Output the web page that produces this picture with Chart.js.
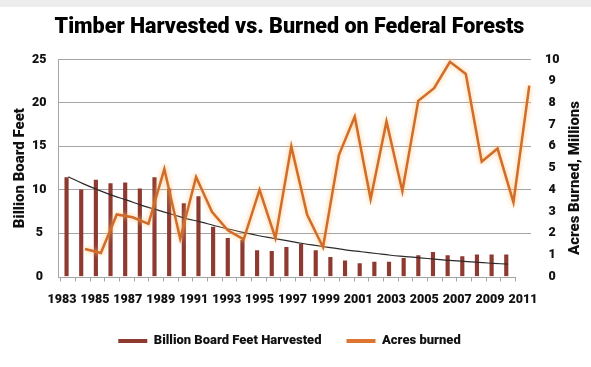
<!DOCTYPE html>
<html><head><meta charset="utf-8">
<script src="https://cdn.jsdelivr.net/npm/chart.js@4/dist/chart.umd.min.js"></script>
<style>
html,body{margin:0;padding:0;}
body{width:591px;height:367px;overflow:hidden;background:linear-gradient(#ededed 0,#ededed 7px,#ffffff 7px);}
canvas{display:block;}
</style></head><body>
<canvas id="c" width="591" height="367"></canvas>
<script>
// ---- data ----
const barYears = [1983,1984,1985,1986,1987,1988,1989,1990,1991,1992,1993,1994,1995,1996,1997,1998,1999,2000,2001,2002,2003,2004,2005,2006,2007,2008,2009,2010,2011,2012,2013];
const harvested = [11.4,10.0,11.1,10.7,10.8,10.1,11.4,10.1,8.4,9.2,5.7,4.4,4.2,3.0,2.9,3.35,3.7,3.0,2.2,1.8,1.5,1.65,1.65,2.1,2.4,2.8,2.4,2.3,2.5,2.5,2.5];
const harvestTrend = [11.5,10.7,10.0,9.35,8.8,8.2,7.7,7.2,6.7,6.3,5.85,5.45,5.05,4.7,4.4,4.1,3.8,3.55,3.3,3.05,2.85,2.65,2.45,2.3,2.15,2.0,1.85,1.75,1.62,1.52,1.42];
const fireYears = [1983,1984,1985,1986,1987,1988,1989,1990,1991,1992,1993,1994,1995,1996,1997,1998,1999,2000,2001,2002,2003,2004,2005,2006,2007,2008,2009,2010,2011];
const acresBurned = [1.27,1.08,2.86,2.73,2.43,4.96,1.74,4.59,2.98,2.13,1.71,4.0,1.77,6.0,2.84,1.35,5.6,7.37,3.57,7.15,3.93,8.1,8.68,9.9,9.34,5.29,5.9,3.42,8.8];
const yearTicks = [1983,1985,1987,1989,1991,1993,1995,1997,1999,2001,2003,2005,2007,2009,2011];
const leftTicks = [0,5,10,15,20,25];
const rightTicks = [0,1,2,3,4,5,6,7,8,9,10];

const GRID = '#a4a4a4';
const FONT = "Roboto, 'Liberation Sans', Arial, sans-serif";
const W = 900;
const BAR = '#8e3a30';
const ORANGE = '#d06d2a';
Chart.defaults.font.family = FONT;
Chart.defaults.font.weight = W;
Chart.defaults.color = '#111';

const glow = {
  id: 'glow',
  beforeDatasetDraw(chart, args) {
    if (args.index === 1) { const c = chart.ctx; c.save(); c.shadowColor = 'rgba(255,190,110,0.95)'; c.shadowBlur = 5; }
  },
  afterDatasetDraw(chart, args) { if (args.index === 1) chart.ctx.restore(); }
};
const baseline = {
  id: 'baseline',
  beforeDatasetsDraw(chart) {
    const xb = chart.scales.xb, y = chart.scales.y, c = chart.ctx;
    const py = Math.round(y.getPixelForValue(0)) + 0.5;
    c.save(); c.strokeStyle = GRID; c.lineWidth = 1; c.beginPath();
    c.moveTo(chart.chartArea.left, py);
    c.lineTo(xb.getPixelForValue(barYears[barYears.length - 1] + 0.5), py);
    c.stroke(); c.restore();
  }
};
const rightTitle = {
  id: 'rightTitle',
  afterDraw(chart) {
    const s = chart.scales.y2, a = chart.chartArea, c = chart.ctx;
    c.save();
    c.font = W + ' 15px ' + FONT; c.fillStyle = '#111';
    c.textAlign = 'center'; c.textBaseline = 'middle';
    c.translate(s.left + 44, (a.top + a.bottom) / 2 + 10);
    c.rotate(-Math.PI / 2);
    c.fillText('Acres Burned, Millions', 0, 0);
    c.restore();
  }
};

new Chart(document.getElementById('c'), {
  type: 'bar',
  data: {
    datasets: [
      { label: 'Billion Board Feet Harvested', data: barYears.map((x, i) => ({x, y: harvested[i]})),
        xAxisID: 'xb', yAxisID: 'y', backgroundColor: BAR, barThickness: 3.5, order: 2 },
      { type: 'line', label: 'Acres burned', data: fireYears.map((x, i) => ({x, y: acresBurned[i]})),
        xAxisID: 'xl', yAxisID: 'y2', borderColor: ORANGE, backgroundColor: '#dc7630', borderWidth: 2.5,
        pointRadius: 0, tension: 0, fill: false, order: 0, clip: false },
      { type: 'line', label: 'trend', data: barYears.map((x, i) => ({x, y: harvestTrend[i]})),
        xAxisID: 'xb', yAxisID: 'y', borderColor: '#2a2a2a', backgroundColor: '#2a2a2a', borderWidth: 1.2,
        pointRadius: 0, tension: 0.4, fill: false, order: 1 }
    ]
  },
  options: {
    responsive: false, animation: false, events: [],
    layout: { padding: { left: 0, right: 12, top: 0, bottom: 9.5 } },
    scales: {
      xb: { type: 'linear', position: 'bottom', weight: 0, min: 1982.297, max: 2014.568, offset: false,
        afterBuildTicks: s => { s.ticks = barYears.map(v => ({value: v - 0.5})).concat([{value: barYears[barYears.length - 1] + 0.5}]); },
        ticks: { display: false },
        grid: { display: true, drawOnChartArea: false, drawTicks: true, tickLength: 5, color: GRID, offset: false },
        border: { display: false } },
      xl: { type: 'linear', display: false, min: 1981.298, max: 2011.107, offset: false, grid: { offset: false } },
      xt: { type: 'linear', position: 'bottom', weight: 1, min: 1982.757, max: 2011.486, offset: false,
        afterBuildTicks: s => { s.ticks = yearTicks.map(v => ({value: v})); },
        ticks: { padding: 2.5, font: { size: 12.5, weight: W }, color: '#111', maxRotation: 0, autoSkip: false,
          callback: v => String(v) },
        grid: { display: false, offset: false }, border: { display: false } },
      y: { position: 'left', min: 0, max: 25,
        afterBuildTicks: s => { s.ticks = leftTicks.map(v => ({value: v})); },
        ticks: { crossAlign: 'center', padding: 11.5, font: { size: 12.5, weight: W }, color: '#111' },
        grid: { color: c => (c.tick && c.tick.value === 0) ? 'rgba(0,0,0,0)' : GRID, drawTicks: false },
        border: { display: true, color: GRID },
        title: { display: true, text: 'Billion Board Feet', font: { size: 15, weight: W }, color: '#111', padding: { top: 11, bottom: 0 } },
        afterFit: s => { s.width = 58; } },
      y2: { position: 'right', min: 0, max: 10,
        afterBuildTicks: s => { s.ticks = rightTicks.map(v => ({value: v})); },
        ticks: { crossAlign: 'center', padding: 6, font: { size: 12.5, weight: W }, color: '#111' },
        grid: { display: false }, border: { display: false },
        afterFit: s => { s.width = 48; } }
    },
    plugins: {
      title: { display: true, text: 'Timber Harvested vs. Burned on Federal Forests',
        font: { size: 21.5, weight: W }, color: '#000', padding: { top: 14.7, bottom: 19.1 } },
      legend: { position: 'bottom', align: 'center',
        labels: { boxWidth: 29, boxHeight: 4, padding: 25, font: { size: 13, weight: W }, color: '#111',
          filter: item => item.datasetIndex !== 2,
          sort: (a, b) => a.datasetIndex - b.datasetIndex,
          generateLabels: ch => Chart.defaults.plugins.legend.labels.generateLabels(ch).map(l => Object.assign(l, {lineWidth: 0})) } },
      tooltip: { enabled: false }
    }
  },
  plugins: [glow, baseline, rightTitle]
});
</script>
</body></html>
